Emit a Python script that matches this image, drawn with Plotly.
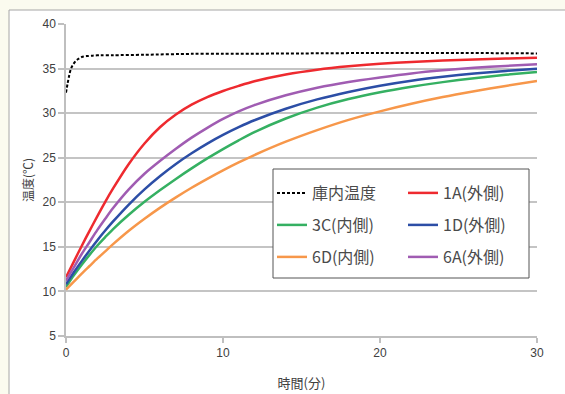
import plotly.graph_objects as go

# Elapsed time (minutes)
t_ambient = [0, 0.1, 0.2, 0.3, 0.4, 0.6, 0.8, 1.0, 1.3, 1.7, 2.2, 3, 5, 8, 10, 15, 20, 25, 30]
ambient = [32.3, 33.3, 34.2, 34.9, 35.3, 35.8, 36.1, 36.3, 36.4, 36.45, 36.5, 36.5,
           36.55, 36.65, 36.65, 36.7, 36.75, 36.75, 36.7]

t = [0, 0.5, 1, 1.5, 2, 2.5, 3, 4, 5, 6, 7, 8, 9, 10, 11, 12,
     14, 16, 18, 20, 22, 24, 26, 28, 30]

# Product temperature at each measuring point (°C)
s_1A = [11.6, 13.35, 15.1, 16.8, 18.45, 20.05, 21.55, 24.3, 26.6, 28.45, 29.85, 30.95, 31.8, 32.48, 33.06, 33.58,
        34.34, 34.88, 35.26, 35.54, 35.74, 35.9, 36.02, 36.12, 36.21]
s_6A = [11.2, 12.7, 14.2, 15.55, 16.9, 18.15, 19.35, 21.45, 23.2, 24.65, 26.0, 27.25, 28.35, 29.35, 30.2, 30.9,
        32.0, 32.85, 33.5, 34.0, 34.45, 34.8, 35.08, 35.3, 35.48]
s_1D = [10.8, 12.15, 13.4, 14.6, 15.75, 16.83, 17.85, 19.75, 21.45, 22.95, 24.3, 25.5, 26.58, 27.55, 28.42, 29.2,
        30.5, 31.54, 32.38, 33.08, 33.64, 34.08, 34.44, 34.74, 34.98]
s_3C = [10.5, 11.8, 13.0, 14.1, 15.15, 16.1, 17.0, 18.6, 20.05, 21.37, 22.62, 23.8, 24.92, 25.97, 26.95, 27.87,
        29.4, 30.62, 31.58, 32.34, 32.96, 33.48, 33.92, 34.3, 34.62]
s_6D = [10.2, 11.1, 12.0, 12.85, 13.7, 14.5, 15.3, 16.8, 18.15, 19.4, 20.55, 21.63, 22.63, 23.58, 24.47, 25.3,
        26.8, 28.1, 29.25, 30.2, 31.05, 31.8, 32.45, 33.05, 33.6]

names = ["庫内温度", "1A(外側)", "3C(内側)", "1D(外側)", "6D(内側)", "6A(外側)"]
colors = ["#000000", "#ee2a2f", "#35b062", "#2c4ea6", "#f7974a", "#a05cb2"]

W, H = 565, 394
L, R, T, B = 66, 28, 24, 58
pw, ph = W - L - R, H - T - B


def px(x):
    return (x - L) / pw


def py(y):
    return (H - B - y) / ph


fig = go.Figure()

series = [
    (t_ambient, ambient, dict(color=colors[0], width=2, dash="3px,2px")),
    (t, s_1A, dict(color=colors[1], width=2.5)),
    (t, s_3C, dict(color=colors[2], width=2.5)),
    (t, s_1D, dict(color=colors[3], width=2.5)),
    (t, s_6D, dict(color=colors[4], width=2.5)),
    (t, s_6A, dict(color=colors[5], width=2.5)),
]

# legend slots: two columns, three rows
col_x = [272, 403]
row_y = [193, 225, 257]
legends = {}
for i, (xs, ys, ln) in enumerate(series):
    key = "legend" if i == 0 else f"legend{i + 1}"
    fig.add_trace(go.Scatter(x=xs, y=ys, mode="lines", name=names[i],
                             line=dict(shape="spline", smoothing=0.8, **ln),
                             legend=key, hoverinfo="skip"))
    col, row = i % 2, i // 2
    legends[key] = dict(x=px(col_x[col]), y=py(row_y[row]), xanchor="left", yanchor="middle",
                        bgcolor="rgba(0,0,0,0)", borderwidth=0,
                        font=dict(family="Noto Sans CJK JP", size=16, color="#4a4a4a"))

fig.update_layout(
    width=W, height=H,
    margin=dict(l=L, r=R, t=T, b=B),
    paper_bgcolor="#fbfbef",
    plot_bgcolor="rgba(0,0,0,0)",
    showlegend=True,
    **legends,
    xaxis=dict(range=[0, 30], tickvals=[0, 10, 20, 30], showgrid=False, zeroline=False,
               automargin=False,
               showline=True, linecolor="#bfbfbf", linewidth=1.5,
               ticks="outside", ticklen=5, tickcolor="#bfbfbf", tickwidth=1.5,
               tickfont=dict(family="Liberation Sans", size=12, color="#404040"),
               title=dict(text="時間(分)", font=dict(family="Noto Sans CJK JP", size=13, color="#404040"),
                          standoff=20)),
    yaxis=dict(range=[5, 40], tickvals=[5, 10, 15, 20, 25, 30, 35, 40], showgrid=True,
               gridcolor="#c4c4c4", gridwidth=1.5, zeroline=False,
               automargin=False,
               showline=True, linecolor="#bfbfbf", linewidth=1.5,
               ticks="outside", ticklen=6, tickcolor="#bfbfbf", tickwidth=1.5,
               tickfont=dict(family="Liberation Sans", size=12, color="#404040"),
               title=dict(text="温度(℃)", font=dict(family="Noto Sans CJK JP", size=12, color="#404040"),
                          standoff=6)),
    shapes=[
        # outer frame
        dict(type="rect", xref="paper", yref="paper", x0=px(9), x1=px(575), y0=py(404), y1=py(10),
             line=dict(color="#a6a6a6", width=1), fillcolor="#ffffff", layer="below"),
        # legend box
        dict(type="rect", xref="paper", yref="paper", x0=px(273), x1=px(529), y0=py(278), y1=py(169),
             line=dict(color="#555555", width=1), fillcolor="#ffffff", layer="above"),
    ],
)

fig.write_html("out.html")
